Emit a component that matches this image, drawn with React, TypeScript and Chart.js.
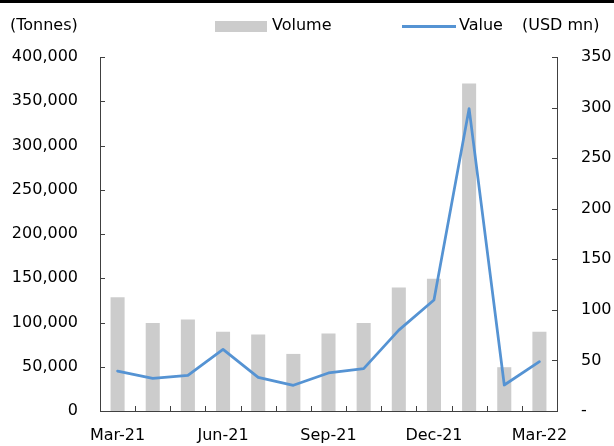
import React, { useEffect, useRef } from 'react';
import { Chart, registerables } from 'chart.js';

Chart.register(...registerables);

const categories = ['Mar-21', 'Apr-21', 'May-21', 'Jun-21', 'Jul-21', 'Aug-21', 'Sep-21', 'Oct-21', 'Nov-21', 'Dec-21', 'Jan-22', 'Feb-22', 'Mar-22'];
const volumeTonnes = [128500, 99500, 103500, 89500, 86500, 64500, 87500, 99500, 139500, 149500, 370000, 49500, 89500];
const valueUsdMn = [39.5, 32.3, 35.3, 61, 33.3, 25.4, 37.6, 41.9, 80, 109.7, 299, 25.7, 48.8];
const xTickLabels = ['Mar-21', 'Jun-21', 'Sep-21', 'Dec-21', 'Mar-22'];

const FONT = 'DejaVu Sans';
const AXIS = '#404040';
const BAR = '#CCCCCC';
const LINE = '#5593D3';

const innerTicks = {
  id: 'innerTicks',
  afterDraw(chart: any) {
    const ctx = chart.ctx;
    const { x, y, y1 } = chart.scales;
    const len = 5;
    ctx.save();
    ctx.strokeStyle = AXIS;
    ctx.lineWidth = 1;
    ctx.beginPath();
    y.ticks.forEach((_t: any, i: number) => {
      const py = Math.round(y.getPixelForTick(i)) + 0.5;
      ctx.moveTo(y.right, py);
      ctx.lineTo(y.right + len, py);
    });
    y1.ticks.forEach((_t: any, i: number) => {
      const py = Math.round(y1.getPixelForTick(i)) + 0.5;
      ctx.moveTo(y1.left, py);
      ctx.lineTo(y1.left - len, py);
    });
    const half = (x.getPixelForValue(1) - x.getPixelForValue(0)) / 2;
    for (let i = 1; i < categories.length; i++) {
      const px = Math.round(x.getPixelForValue(i) - half) + 0.5;
      ctx.moveTo(px, x.top);
      ctx.lineTo(px, x.top - len);
    }
    ctx.stroke();
    ctx.restore();
  },
};

export default function App() {
  const ref = useRef<HTMLCanvasElement | null>(null);

  useEffect(() => {
    if (!ref.current) return;
    const chart = new Chart(ref.current, {
      type: 'bar',
      data: {
        labels: categories,
        datasets: [
          {
            type: 'line',
            label: 'Value',
            data: valueUsdMn,
            yAxisID: 'y1',
            borderColor: LINE,
            backgroundColor: LINE,
            borderWidth: 2.75,
            borderJoinStyle: 'round',
            borderCapStyle: 'round',
            pointRadius: 0,
            tension: 0,
            order: 0,
          } as any,
          {
            type: 'bar',
            label: 'Volume',
            data: volumeTonnes,
            yAxisID: 'y',
            backgroundColor: BAR,
            borderWidth: 0,
            barPercentage: 0.4,
            categoryPercentage: 1,
            order: 1,
          } as any,
        ],
      },
      options: {
        animation: false,
        responsive: false,
        maintainAspectRatio: false,
        layout: { padding: { top: 57, left: 0, right: 0, bottom: 0 } },
        font: { family: FONT, size: 16 },
        plugins: {
          legend: { display: false },
          tooltip: { enabled: false },
        },
        scales: {
          x: {
            type: 'category',
            offset: true,
            grid: { display: false, drawTicks: false },
            border: { display: true, color: AXIS, width: 1 },
            ticks: {
              autoSkip: false,
              maxRotation: 0,
              minRotation: 0,
              padding: 15,
              color: '#000',
              font: { family: FONT, size: 16 },
              callback: (_v: any, i: number) => (xTickLabels.includes(categories[i]) ? categories[i] : ''),
            },
            afterFit: (s: any) => { s.height = 35; },
          },
          y: {
            type: 'linear',
            position: 'left',
            min: 0,
            max: 400000,
            grid: { display: false, drawTicks: false },
            border: { display: true, color: AXIS, width: 1 },
            ticks: {
              stepSize: 50000,
              padding: 22,
              color: '#000',
              font: { family: FONT, size: 16 },
              callback: (v: any) => Number(v).toLocaleString('en-US'),
            },
            afterFit: (s: any) => { s.width = 100; },
          },
          y1: {
            type: 'linear',
            position: 'right',
            min: 0,
            max: 350,
            grid: { display: false, drawTicks: false },
            border: { display: true, color: AXIS, width: 1 },
            ticks: {
              stepSize: 50,
              padding: 24,
              color: '#000',
              font: { family: FONT, size: 16 },
              callback: (v: any) => (Number(v) === 0 ? '-' : String(v)),
            },
            afterFit: (s: any) => { s.width = 57; },
          },
        },
      } as any,
      plugins: [innerTicks],
    });
    return () => chart.destroy();
  }, []);

  const txt: React.CSSProperties = {
    position: 'absolute',
    fontFamily: FONT,
    fontSize: 16,
    lineHeight: '16px',
    color: '#000',
    whiteSpace: 'nowrap',
    top: 17,
  };

  return (
    <div style={{ position: 'absolute', left: 0, top: 0, width: 614, height: 446, background: '#fff', overflow: 'hidden' }}>
      <canvas ref={ref} width={614} height={446} style={{ position: 'absolute', left: 0, top: 0, width: 614, height: 446 }} />
      <div style={{ position: 'absolute', left: 0, top: 0, width: 614, height: 3, background: '#000' }} />
      <span style={{ ...txt, left: 10 }}>(Tonnes)</span>
      <div style={{ position: 'absolute', left: 215, top: 21, width: 52, height: 11, background: BAR }} />
      <span style={{ ...txt, left: 272 }}>Volume</span>
      <div style={{ position: 'absolute', left: 402, top: 25, width: 54, height: 3, background: LINE }} />
      <span style={{ ...txt, left: 459 }}>Value</span>
      <span style={{ ...txt, left: 522 }}>(USD mn)</span>
    </div>
  );
}
